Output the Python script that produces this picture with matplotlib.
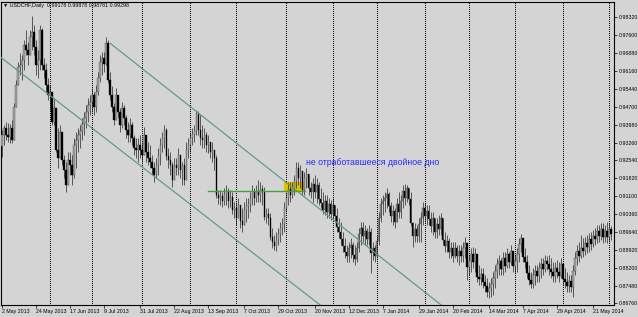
import numpy as np
from matplotlib import pyplot as plt
from matplotlib.patches import Rectangle

plt.rcParams['font.family'] = ['Liberation Sans', 'DejaVu Sans']

# daily USDCHF candles (open = previous close)
first_open = 0.9312
close = [
    0.9357, 0.9385, 0.9357, 0.9349, 0.9385, 0.9336, 0.9470, 0.9559, 0.9632, 0.9640,
    0.9660, 0.9720, 0.9700, 0.9680, 0.9753, 0.9773, 0.9712, 0.9640, 0.9660, 0.9781,
    0.9640, 0.9619, 0.9559, 0.9518, 0.9530, 0.9409, 0.9466, 0.9296, 0.9264, 0.9369,
    0.9256, 0.9215, 0.9155, 0.9256, 0.9236, 0.9195, 0.9316, 0.9336, 0.9357, 0.9373,
    0.9401, 0.9425, 0.9450, 0.9478, 0.9490, 0.9518, 0.9470, 0.9530, 0.9587, 0.9652,
    0.9668, 0.9644, 0.9728, 0.9579, 0.9518, 0.9470, 0.9417, 0.9518, 0.9450, 0.9397,
    0.9466, 0.9425, 0.9377, 0.9357, 0.9397, 0.9345, 0.9304, 0.9296, 0.9316, 0.9296,
    0.9276, 0.9357, 0.9288, 0.9264, 0.9248, 0.9224, 0.9195, 0.9236, 0.9276, 0.9316,
    0.9345, 0.9377, 0.9272, 0.9256, 0.9236, 0.9175, 0.9236, 0.9224, 0.9276, 0.9215,
    0.9236, 0.9175, 0.9296, 0.9316, 0.9345, 0.9361, 0.9373, 0.9442, 0.9377, 0.9345,
    0.9336, 0.9357, 0.9316, 0.9328, 0.9288, 0.9296, 0.9264, 0.9114, 0.9102, 0.9110,
    0.9090, 0.9118, 0.9130, 0.9090, 0.9106, 0.9054, 0.9062, 0.9022, 0.9074, 0.9009,
    0.8993, 0.9054, 0.9070, 0.9078, 0.9102, 0.9130, 0.9102, 0.9130, 0.9114, 0.9139,
    0.9126, 0.9026, 0.9038, 0.9022, 0.8945, 0.8924, 0.8908, 0.8932, 0.8957, 0.8981,
    0.8997, 0.9062, 0.9102, 0.9139, 0.9114, 0.9143, 0.9171, 0.9224, 0.9183, 0.9211,
    0.9134, 0.9183, 0.9199, 0.9143, 0.9126, 0.9159, 0.9126, 0.9155, 0.9098, 0.9082,
    0.9054, 0.9090, 0.9046, 0.9078, 0.9038, 0.9074, 0.9030, 0.8985, 0.8965, 0.8937,
    0.8908, 0.8884, 0.8868, 0.8900, 0.8912, 0.8872, 0.8856, 0.8900, 0.8957, 0.8981,
    0.8949, 0.8969, 0.8937, 0.8965, 0.8880, 0.8900, 0.8868, 0.8928, 0.9022, 0.9078,
    0.9090, 0.9102, 0.9118, 0.9070, 0.9030, 0.9050, 0.9005, 0.9078, 0.9046, 0.9090,
    0.9130, 0.9102, 0.9143, 0.9098, 0.9001, 0.8949, 0.8977, 0.8949, 0.8997, 0.9022,
    0.9062, 0.9030, 0.9050, 0.9018, 0.8989, 0.9022, 0.8965, 0.8997, 0.8977, 0.9022,
    0.8932, 0.8908, 0.8928, 0.8884, 0.8900, 0.8868, 0.8900, 0.8868, 0.8888, 0.8868,
    0.8900, 0.8920, 0.8824, 0.8848, 0.8876, 0.8844, 0.8876, 0.8783, 0.8775, 0.8795,
    0.8763, 0.8747, 0.8722, 0.8739, 0.8755, 0.8779, 0.8807, 0.8836, 0.8848, 0.8816,
    0.8860, 0.8828, 0.8876, 0.8844, 0.8888, 0.8828, 0.8848, 0.8876, 0.8916, 0.8941,
    0.8864, 0.8844, 0.8799, 0.8771, 0.8755, 0.8791, 0.8807, 0.8787, 0.8820, 0.8836,
    0.8816, 0.8848, 0.8836, 0.8816, 0.8803, 0.8787, 0.8820, 0.8803, 0.8787, 0.8836,
    0.8775, 0.8763, 0.8747, 0.8767, 0.8743, 0.8807, 0.8860, 0.8888, 0.8868, 0.8900,
    0.8888, 0.8920, 0.8904, 0.8937, 0.8916, 0.8949, 0.8937, 0.8969, 0.8949, 0.8977,
    0.8945, 0.8969, 0.8945, 0.8977, 0.8957,
]
high = [
    0.9377, 0.9397, 0.9409, 0.9405, 0.9401, 0.9417, 0.9486, 0.9579, 0.9652, 0.9688,
    0.9680, 0.9740, 0.9781, 0.9732, 0.9781, 0.9837, 0.9801, 0.9740, 0.9700, 0.9801,
    0.9789, 0.9668, 0.9648, 0.9587, 0.9559, 0.9530, 0.9506, 0.9450, 0.9385, 0.9397,
    0.9369, 0.9276, 0.9248, 0.9288, 0.9288, 0.9276, 0.9345, 0.9369, 0.9385, 0.9397,
    0.9425, 0.9450, 0.9478, 0.9506, 0.9518, 0.9546, 0.9530, 0.9559, 0.9611, 0.9680,
    0.9692, 0.9692, 0.9753, 0.9740, 0.9611, 0.9555, 0.9486, 0.9546, 0.9506, 0.9466,
    0.9490, 0.9478, 0.9437, 0.9409, 0.9425, 0.9409, 0.9357, 0.9345, 0.9345, 0.9357,
    0.9328, 0.9389, 0.9357, 0.9328, 0.9316, 0.9276, 0.9248, 0.9264, 0.9304, 0.9345,
    0.9369, 0.9397, 0.9385, 0.9304, 0.9288, 0.9248, 0.9264, 0.9264, 0.9304, 0.9264,
    0.9248, 0.9264, 0.9328, 0.9345, 0.9369, 0.9385, 0.9397, 0.9458, 0.9454, 0.9437,
    0.9397, 0.9385, 0.9369, 0.9357, 0.9328, 0.9328, 0.9288, 0.9276, 0.9134, 0.9134,
    0.9126, 0.9143, 0.9155, 0.9143, 0.9134, 0.9126, 0.9086, 0.9086, 0.9102, 0.9074,
    0.9062, 0.9086, 0.9102, 0.9102, 0.9126, 0.9155, 0.9143, 0.9155, 0.9175, 0.9167,
    0.9155, 0.9147, 0.9062, 0.9062, 0.9042, 0.8981, 0.8953, 0.8965, 0.8981, 0.9005,
    0.9022, 0.9086, 0.9126, 0.9167, 0.9167, 0.9167, 0.9195, 0.9248, 0.9248, 0.9236,
    0.9207, 0.9207, 0.9224, 0.9195, 0.9167, 0.9183, 0.9195, 0.9183, 0.9167, 0.9143,
    0.9126, 0.9114, 0.9114, 0.9102, 0.9094, 0.9102, 0.9074, 0.9062, 0.9022, 0.9005,
    0.8965, 0.8941, 0.8912, 0.8924, 0.8941, 0.8924, 0.8912, 0.8924, 0.8981, 0.9005,
    0.9005, 0.8993, 0.8981, 0.8993, 0.8981, 0.8924, 0.8912, 0.8953, 0.9046, 0.9102,
    0.9114, 0.9126, 0.9143, 0.9126, 0.9086, 0.9074, 0.9062, 0.9102, 0.9126, 0.9114,
    0.9155, 0.9159, 0.9155, 0.9143, 0.9126, 0.9005, 0.9001, 0.8993, 0.9022, 0.9046,
    0.9086, 0.9082, 0.9074, 0.9074, 0.9046, 0.9046, 0.9022, 0.9022, 0.9034, 0.9042,
    0.9005, 0.8965, 0.8953, 0.8941, 0.8924, 0.8924, 0.8924, 0.8912, 0.8912, 0.8912,
    0.8924, 0.8945, 0.8912, 0.8872, 0.8900, 0.8904, 0.8900, 0.8860, 0.8831, 0.8819,
    0.8819, 0.8791, 0.8779, 0.8763, 0.8779, 0.8803, 0.8831, 0.8860, 0.8872, 0.8860,
    0.8884, 0.8884, 0.8900, 0.8884, 0.8912, 0.8884, 0.8872, 0.8900, 0.8941, 0.8957,
    0.8941, 0.8900, 0.8872, 0.8831, 0.8803, 0.8819, 0.8831, 0.8831, 0.8844, 0.8860,
    0.8860, 0.8872, 0.8868, 0.8872, 0.8860, 0.8844, 0.8844, 0.8852, 0.8844, 0.8860,
    0.8831, 0.8819, 0.8803, 0.8791, 0.8791, 0.8831, 0.8884, 0.8912, 0.8924, 0.8953,
    0.8941, 0.8945, 0.8953, 0.8961, 0.8965, 0.8973, 0.8981, 0.8993, 0.8993, 0.9001,
    0.9001, 0.8993, 0.9005, 0.9001, 0.8989,
]
low = [
    0.9268, 0.9316, 0.9336, 0.9328, 0.9324, 0.9324, 0.9397, 0.9478, 0.9559, 0.9599,
    0.9579, 0.9619, 0.9680, 0.9640, 0.9680, 0.9700, 0.9680, 0.9599, 0.9587, 0.9619,
    0.9619, 0.9587, 0.9530, 0.9498, 0.9458, 0.9397, 0.9397, 0.9288, 0.9224, 0.9276,
    0.9236, 0.9183, 0.9126, 0.9175, 0.9195, 0.9155, 0.9183, 0.9224, 0.9288, 0.9304,
    0.9336, 0.9357, 0.9385, 0.9409, 0.9437, 0.9450, 0.9437, 0.9450, 0.9518, 0.9571,
    0.9599, 0.9611, 0.9640, 0.9567, 0.9498, 0.9450, 0.9397, 0.9437, 0.9425, 0.9369,
    0.9385, 0.9397, 0.9345, 0.9328, 0.9328, 0.9316, 0.9276, 0.9264, 0.9248, 0.9264,
    0.9248, 0.9276, 0.9248, 0.9236, 0.9224, 0.9195, 0.9167, 0.9183, 0.9195, 0.9236,
    0.9288, 0.9304, 0.9256, 0.9224, 0.9195, 0.9147, 0.9183, 0.9195, 0.9195, 0.9183,
    0.9155, 0.9155, 0.9224, 0.9264, 0.9288, 0.9316, 0.9328, 0.9357, 0.9357, 0.9316,
    0.9304, 0.9304, 0.9288, 0.9284, 0.9264, 0.9248, 0.9215, 0.9102, 0.9078, 0.9074,
    0.9066, 0.9074, 0.9074, 0.9062, 0.9066, 0.9038, 0.9022, 0.8993, 0.9022, 0.8981,
    0.8965, 0.8993, 0.9005, 0.9022, 0.9046, 0.9074, 0.9074, 0.9086, 0.9086, 0.9086,
    0.9074, 0.9013, 0.9001, 0.8993, 0.8932, 0.8900, 0.8892, 0.8888, 0.8912, 0.8924,
    0.8953, 0.8965, 0.9046, 0.9074, 0.9086, 0.9102, 0.9114, 0.9143, 0.9155, 0.9143,
    0.9114, 0.9114, 0.9143, 0.9114, 0.9102, 0.9086, 0.9102, 0.9082, 0.9074, 0.9062,
    0.9038, 0.9034, 0.9022, 0.9022, 0.9013, 0.9013, 0.9005, 0.8965, 0.8941, 0.8912,
    0.8884, 0.8860, 0.8844, 0.8844, 0.8860, 0.8844, 0.8831, 0.8844, 0.8884, 0.8912,
    0.8924, 0.8912, 0.8912, 0.8912, 0.8799, 0.8852, 0.8844, 0.8860, 0.8912, 0.9005,
    0.9034, 0.9046, 0.9062, 0.9046, 0.9005, 0.8993, 0.8981, 0.9005, 0.9022, 0.9022,
    0.9062, 0.9074, 0.9086, 0.9074, 0.8989, 0.8904, 0.8924, 0.8924, 0.8924, 0.8924,
    0.8993, 0.9005, 0.8993, 0.8993, 0.8965, 0.8953, 0.8941, 0.8941, 0.8953, 0.8953,
    0.8912, 0.8884, 0.8884, 0.8860, 0.8860, 0.8844, 0.8860, 0.8844, 0.8831, 0.8844,
    0.8844, 0.8860, 0.8771, 0.8791, 0.8803, 0.8819, 0.8803, 0.8763, 0.8751, 0.8751,
    0.8739, 0.8722, 0.8702, 0.8698, 0.8702, 0.8710, 0.8739, 0.8779, 0.8791, 0.8791,
    0.8791, 0.8803, 0.8819, 0.8819, 0.8831, 0.8803, 0.8799, 0.8803, 0.8844, 0.8884,
    0.8844, 0.8819, 0.8779, 0.8751, 0.8739, 0.8739, 0.8751, 0.8763, 0.8763, 0.8779,
    0.8791, 0.8803, 0.8811, 0.8791, 0.8779, 0.8763, 0.8763, 0.8779, 0.8763, 0.8779,
    0.8751, 0.8739, 0.8722, 0.8722, 0.8722, 0.8702, 0.8791, 0.8831, 0.8844, 0.8860,
    0.8864, 0.8872, 0.8880, 0.8884, 0.8892, 0.8904, 0.8912, 0.8920, 0.8924, 0.8932,
    0.8920, 0.8924, 0.8920, 0.8924, 0.8932,
]

# bar index of each date label and its text
label_bars = [0, 17, 34, 51, 69, 86, 103, 121, 138, 156, 173, 190, 208, 225, 243, 260, 277, 295]
date_labels = ["2 May 2013", "24 May 2013", "17 Jun 2013", "9 Jul 2013", "31 Jul 2013",
               "22 Aug 2013", "13 Sep 2013", "7 Oct 2013", "29 Oct 2013", "20 Nov 2013",
               "12 Dec 2013", "7 Jan 2014", "29 Jan 2014", "20 Feb 2014", "14 Mar 2014",
               "7 Apr 2014", "29 Apr 2014", "21 May 2014"]
grid_bars = [24, 45, 70, 94, 117, 142, 165, 187, 211, 233, 256, 280, 303]
price_ticks = [0.98320, 0.97600, 0.96880, 0.96160, 0.95440, 0.94700, 0.93980, 0.93260,
               0.92540, 0.91820, 0.91100, 0.90360, 0.89640, 0.88920, 0.88200, 0.87480, 0.86760]

# drawn objects: channel lines, neckline, box, note
lower_channel = ([-1, 158.8], [0.96729, 0.86698])
upper_channel = ([54, 219.2], [0.97271, 0.86698])
neckline = ([102.8, 151.3], [0.91316, 0.91316])
box = (140.8, 0.91263, 10.0, 0.00404)
note = (151.8, 0.92475, "не отработавшееся двойное дно")
header = "▼ USDCHF,Daily  0.99178 0.99878 0.98781 0.99298"

c = np.array(close)
o = np.concatenate([[first_open], c[:-1]])
h = np.maximum(np.array(high), np.maximum(o, c))
l = np.minimum(np.array(low), np.minimum(o, c))
x = np.arange(len(c))
up = c >= o

bg = '#d4d4d4'
fig = plt.figure(figsize=(6.38, 3.17), dpi=100, facecolor=bg)
ax = fig.add_axes([1 / 638, 12 / 317, 613 / 638, 303 / 317])
ax.set_facecolor(bg)
ax.set_xlim(-0.5, 305.5)
ax.set_ylim(0.86698, 0.98939)

for g in grid_bars:
    ax.axvline(g, color='black', lw=0.72, ls=(0, (1, 1.5)), zorder=1, antialiased=False)

ax.add_patch(Rectangle(box[:2], box[2], box[3], facecolor='#e3c100', edgecolor='none', zorder=1.5))

ax.vlines(x, l, h, color='#101010', lw=0.45, zorder=2)
body = np.maximum(np.abs(c - o), 0.00008)
ax.bar(x[up], body[up], bottom=np.minimum(o, c)[up], width=0.75,
       color='#a4a4a4', edgecolor='#404040', linewidth=0.25, zorder=3)
ax.bar(x[~up], body[~up], bottom=np.minimum(o, c)[~up], width=0.75,
       color='black', edgecolor='black', linewidth=0.25, zorder=3)

for xs, ys in (lower_channel, upper_channel):
    ax.plot(xs, ys, color='#5f9e80', lw=0.9, zorder=4)
ax.plot(neckline[0], neckline[1], color='#46a040', lw=1.0, zorder=4)
ax.text(note[0], note[1], note[2], color='#2a2aff', fontsize=6.3, va='center', ha='left', zorder=5)

fig.text(3 / 638, 1 - 6 / 317, header, fontsize=3.8, va='center', ha='left')

ax.yaxis.tick_right()
ax.set_yticks(price_ticks)
ax.set_yticklabels(["%.5f" % p for p in price_ticks], fontsize=3.8)
ax.set_xticks(label_bars)
ax.set_xticklabels(date_labels, fontsize=3.8, ha='left')
ax.tick_params(axis='both', length=2, width=0.5, pad=1.2, colors='black')
for s in ax.spines.values():
    s.set_color('black')
    s.set_linewidth(0.8)

plt.savefig("out.png", dpi=100, facecolor=bg)
